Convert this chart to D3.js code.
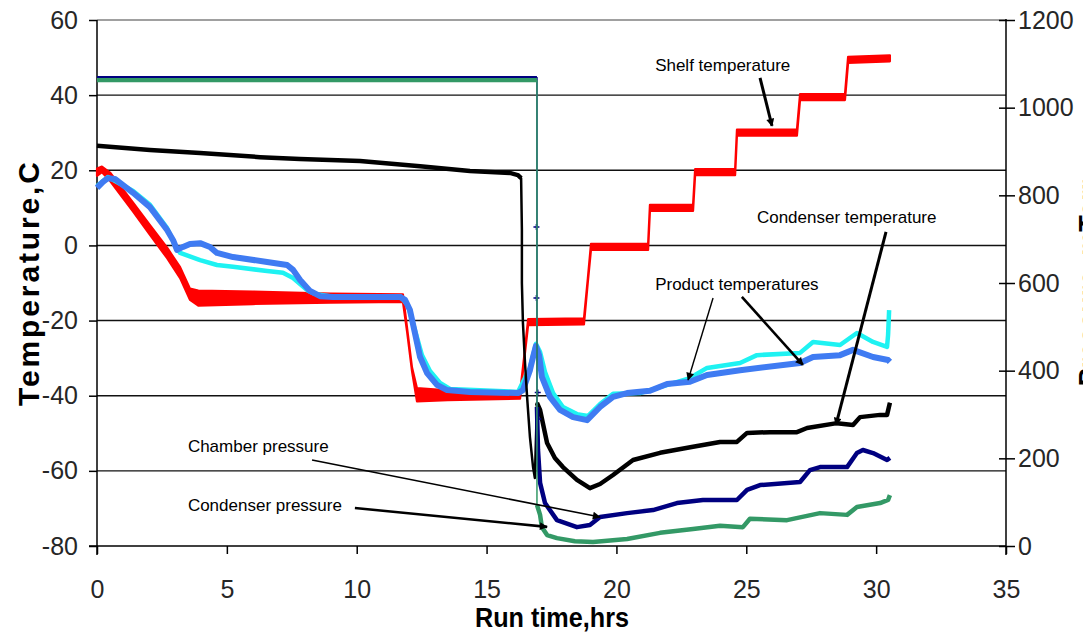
<!DOCTYPE html>
<html>
<head>
<meta charset="utf-8">
<script src="https://cdn.jsdelivr.net/npm/d3@7"></script>
<style>
  html, body { margin: 0; padding: 0; background: #fff; }
  svg { display: block; }
  .tick text { font-family: "Liberation Sans", Arial, sans-serif; font-size: 25px; fill: #262626; }
  .note { font-family: "Liberation Sans", Arial, sans-serif; font-size: 17px; fill: #000; }
  .title { font-family: "Liberation Sans", Arial, sans-serif; font-size: 27px; font-weight: bold; fill: #000; }
</style>
</head>
<body>
<svg id="chart" width="1083" height="636"></svg>
<script>
// Freeze-drying run: temperatures (C, left axis) and pressures (mTorr, right axis) vs run time (hrs)

const timeTicks = [0, 5, 10, 15, 20, 25, 30, 35];
const tempTicks = [-80, -60, -40, -20, 0, 20, 40, 60];
const pressTicks = [0, 200, 400, 600, 800, 1000, 1200];

// Shelf temperature: [time, low, high] of the recorded scatter
const shelf = [
  [0.00, 18.5, 20.5], [0.19, 19.5, 21.0], [0.50, 17.2, 19.4], [1.39, 9.0, 11.4],
  [2.04, 2.8, 5.4], [2.70, -3.4, -0.6], [3.20, -8.7, -5.8], [3.58, -14.5, -11.5],
  [3.90, -16.0, -12.0], [6.00, -15.6, -12.3], [9.00, -15.2, -12.8], [11.78, -15.0, -13.0],
  [11.94, -23.0, -22.0], [12.13, -33.5, -32.5], [12.32, -41.5, -38.0], [13.50, -41.2, -38.6],
  [16.29, -40.8, -39.2], [16.44, -31.0, -30.0], [16.60, -21.2, -19.6], [18.75, -21.0, -19.4],
  [18.90, -9.7, -8.7], [19.02, -1.2, 0.4], [21.22, -1.2, 0.4], [21.29, 9.2, 10.8],
  [22.95, 9.2, 10.8], [23.03, 18.7, 20.3], [24.57, 18.7, 20.3], [24.64, 29.2, 30.8],
  [26.95, 29.2, 30.8], [27.07, 38.7, 40.3], [28.80, 38.7, 40.3], [28.92, 48.6, 50.2],
  [30.53, 49.0, 50.6]
];

// Product temperature, probe 1 (cyan)
const product1 = [
  [0.00, 15.8], [0.42, 18.2], [1.39, 14.5], [2.04, 10.8], [2.70, 4.6], [3.00, 0.1],
  [3.20, -2.0], [3.97, -3.9], [4.62, -5.2], [5.24, -5.7], [6.55, -6.8], [7.16, -7.3],
  [7.55, -8.7], [8.09, -11.9], [8.39, -12.9], [8.97, -13.5], [11.67, -13.5], [11.97, -15.9],
  [12.24, -22.5], [12.51, -29.2], [12.82, -33.4], [13.21, -36.6], [13.59, -38.2], [16.21, -39.0],
  [16.67, -32.6], [16.90, -26.2], [17.06, -28.4], [17.25, -33.7], [17.56, -39.3], [17.94, -43.0],
  [18.48, -44.9], [18.90, -45.4], [19.37, -42.2], [19.87, -39.5], [20.91, -39.3], [22.83, -35.3],
  [23.49, -32.6], [24.76, -31.3], [25.41, -29.2], [27.07, -28.6], [27.57, -25.7], [28.61, -26.5],
  [29.26, -23.3], [29.88, -25.7], [30.42, -27.0], [30.46, -23.8], [30.50, -17.2]
];

// Product temperature, probe 2 (blue)
const product2 = [
  [0.00, 15.3], [0.23, 16.9], [0.42, 17.9], [0.69, 17.7], [1.39, 14.0], [2.04, 10.2],
  [2.70, 4.1], [2.93, 1.4], [3.08, -1.2], [3.31, -0.4], [3.58, 0.4], [3.97, 0.6],
  [4.35, -0.4], [4.62, -2.0], [5.24, -3.1], [6.55, -4.4], [7.32, -5.2], [7.55, -6.5],
  [7.82, -9.2], [8.20, -12.1], [8.59, -13.5], [9.09, -13.7], [11.67, -13.7], [11.86, -14.5],
  [12.05, -17.2], [12.24, -23.3], [12.44, -29.7], [12.71, -34.0], [13.09, -37.1], [13.48, -38.5],
  [14.36, -39.0], [16.21, -39.3], [16.40, -38.5], [16.67, -33.2], [16.79, -29.7], [16.90, -26.8],
  [17.02, -29.2], [17.13, -35.0], [17.44, -40.3], [17.83, -43.8], [18.33, -45.7], [18.87, -46.5],
  [19.37, -43.0], [19.87, -40.3], [20.41, -39.3], [21.29, -38.7], [21.95, -36.9], [22.83, -36.3],
  [23.49, -34.5], [24.76, -33.2], [27.07, -31.3], [27.57, -29.7], [28.61, -29.2], [29.11, -27.8],
  [29.88, -29.7], [30.46, -30.5], [30.53, -31.0]
];

// Condenser temperature (black)
const condenserTemp = [
  [0.00, 26.5], [2.04, 25.4], [3.97, 24.6], [6.28, 23.5], [7.82, 23.0], [10.13, 22.5],
  [12.44, 21.1], [14.36, 19.8], [15.90, 19.3], [16.21, 18.7], [16.33, 17.9], [16.36, 4.1],
  [16.36, -10.0], [16.40, -20.6], [16.48, -31.3], [16.56, -40.3], [16.67, -51.0], [16.79, -59.0],
  [16.86, -61.9], [16.94, -41.9], [17.06, -43.8], [17.33, -52.6], [17.63, -56.6], [17.94, -59.0],
  [18.48, -62.4], [18.98, -64.6], [19.37, -63.5], [19.87, -61.1], [20.64, -57.1], [21.68, -55.2],
  [22.95, -53.6], [23.99, -52.3], [24.64, -52.3], [25.03, -49.9], [25.91, -49.7], [26.95, -49.7],
  [27.34, -48.6], [28.49, -47.3], [29.11, -47.8], [29.38, -45.7], [30.15, -45.1], [30.42, -45.1],
  [30.53, -41.9]
];

// Chamber pressure, mTorr (navy)
const chamberPressure = [
  [0.00, 1070], [16.94, 1070], [16.94, 317], [16.98, 219], [17.06, 144], [17.25, 98],
  [17.71, 59], [18.48, 43], [18.98, 48], [19.37, 66], [20.41, 75], [21.41, 82],
  [22.33, 98], [23.33, 105], [24.64, 105], [25.03, 128], [25.53, 139], [27.07, 146],
  [27.45, 173], [27.84, 180], [28.88, 180], [29.26, 212], [29.49, 219], [29.88, 212],
  [30.42, 196], [30.53, 201]
];
// Single chamber readings logged during pump-down
const chamberPumpdown = [[16.92, 728], [16.92, 566], [16.97, 350], [16.99, 290]];

// Condenser pressure, mTorr (green)
const condenserPressure = [
  [0.00, 1063], [16.94, 1063], [16.94, 94], [17.06, 71], [17.13, 43], [17.33, 25],
  [17.71, 18], [18.40, 11], [19.10, 9], [20.41, 16], [21.68, 30], [22.95, 39],
  [23.99, 46], [24.87, 43], [25.14, 62], [26.57, 59], [27.84, 75], [28.88, 71],
  [29.26, 89], [30.15, 98], [30.46, 105], [30.53, 116]
];

// Pump-down start: chamber evacuated from here on
const pumpdownStart = 16.94;

// Callouts: label with anchor (time, temperature) and arrows [from, to, weight]
const callouts = [
  { text: "Shelf temperature", at: [21.49, 46.4], arrows: [[[25.53, 44.6], [25.99, 31.8], 3]] },
  { text: "Condenser temperature", at: [25.41, 6.0], arrows: [[[30.38, 3.6], [28.45, -47.8], 3]] },
  { text: "Product temperatures", at: [21.49, -11.9], arrows: [[[23.72, -14.0], [22.76, -35.8], 1.4], [[24.83, -13.7], [27.18, -31.8], 2.6]] },
  { text: "Chamber pressure", at: [3.5, -55.0], arrows: [[[8.28, -57.1], [19.37, -72.3], 1.6]] },
  { text: "Condenser pressure", at: [3.5, -70.7], arrows: [[[9.93, -69.9], [17.33, -74.9], 2.6]] }
];

const svg = d3.select("#chart");
const plotLeft = 97, plotRight = 1006, plotTop = 20, plotBottom = 546;

const x = d3.scaleLinear().domain([0, 35]).range([plotLeft, plotRight]);
const yT = d3.scaleLinear().domain([-80, 60]).range([plotBottom, plotTop]);
const yP = d3.scaleLinear().domain([0, 1200]).range([plotBottom, plotTop]);
const plain = d => String(d);

// arrowhead
svg.append("defs").append("marker")
  .attr("id", "head").attr("viewBox", "0 0 10 10").attr("refX", 9).attr("refY", 5)
  .attr("markerWidth", 9).attr("markerHeight", 8).attr("markerUnits", "userSpaceOnUse")
  .attr("orient", "auto")
  .append("path").attr("d", "M0,0 L10,5 L0,10 Z").attr("fill", "#000");

// horizontal grid lines at temperature ticks
svg.append("g").selectAll("line")
  .data(tempTicks.filter(v => v > -80 && v < 60))
  .join("line")
  .attr("x1", plotLeft).attr("x2", plotRight)
  .attr("y1", d => yT(d)).attr("y2", d => yT(d))
  .attr("stroke", "#111").attr("stroke-width", 1.4);

// plot-area top border
svg.append("line").attr("x1", plotLeft).attr("x2", plotRight).attr("y1", plotTop).attr("y2", plotTop)
  .attr("stroke", "#a0a0a0").attr("stroke-width", 2);

// axes
const gL = svg.append("g").attr("transform", `translate(${plotLeft},0)`)
  .call(d3.axisLeft(yT).tickValues(tempTicks).tickFormat(plain).tickSize(8).tickSizeOuter(0).tickPadding(11));
const gR = svg.append("g").attr("transform", `translate(${plotRight},0)`)
  .call(d3.axisRight(yP).tickValues(pressTicks).tickFormat(plain).tickSize(9).tickSizeOuter(0).tickPadding(3));
const gB = svg.append("g").attr("transform", `translate(0,${plotBottom})`)
  .call(d3.axisBottom(x).tickValues(timeTicks).tickFormat(plain).tickSize(8).tickSizeOuter(0));

[gL, gR, gB].forEach(g => {
  g.select(".domain").remove();
  g.selectAll(".tick line").attr("stroke", "#000").attr("stroke-width", 1.5);
});
gR.selectAll(".tick line").attr("x1", -7);
gB.selectAll(".tick text").attr("y", 52).attr("dy", 0);

// axis lines
svg.append("line").attr("x1", plotLeft).attr("x2", plotLeft).attr("y1", plotTop).attr("y2", plotBottom + 9)
  .attr("stroke", "#000").attr("stroke-width", 1.5);
svg.append("line").attr("x1", plotRight).attr("x2", plotRight).attr("y1", plotTop - 1).attr("y2", plotBottom + 9)
  .attr("stroke", "#000").attr("stroke-width", 1.5);
svg.append("line").attr("x1", plotLeft - 8).attr("x2", plotRight).attr("y1", plotBottom).attr("y2", plotBottom)
  .attr("stroke", "#000").attr("stroke-width", 1.5);

// axis titles
svg.append("text").attr("class", "title")
  .attr("transform", `translate(39,${(plotTop + plotBottom) / 2 + 1}) rotate(-90)`)
  .attr("text-anchor", "middle").style("font-size", "30px")
  .attr("textLength", 244).attr("lengthAdjust", "spacing")
  .text("Temperature,C");
svg.append("text").attr("class", "title")
  .attr("x", 552).attr("y", 627)
  .attr("text-anchor", "middle")
  .attr("textLength", 154).attr("lengthAdjust", "spacingAndGlyphs")
  .text("Run time,hrs");
svg.append("text").attr("class", "title")
  .attr("transform", `translate(1098,${(plotTop + plotBottom) / 2}) rotate(-90)`)
  .attr("text-anchor", "middle").text("Pressure, mTorr");

const plot = svg.append("g");

// shelf temperature scatter band
plot.append("path").datum(shelf)
  .attr("d", d3.area().x(d => x(d[0])).y0(d => yT(d[1])).y1(d => yT(d[2])))
  .attr("fill", "#ff0000").attr("stroke", "#ff0000").attr("stroke-width", 2.2)
  .attr("stroke-linejoin", "round");

const tLine = d3.line().x(d => x(d[0])).y(d => yT(d[1]));
const pLine = d3.line().x(d => x(d[0])).y(d => yP(d[1]));

plot.append("path").datum(product1).attr("d", tLine)
  .attr("fill", "none").attr("stroke", "#1ef2f2").attr("stroke-width", 4.5).attr("stroke-linejoin", "round");
plot.append("path").datum(product2).attr("d", tLine)
  .attr("fill", "none").attr("stroke", "#3f7bf2").attr("stroke-width", 6).attr("stroke-linejoin", "round");

// condenser temperature: fine trace during the plunge, heavy elsewhere
plot.append("path").datum(condenserTemp).attr("d", tLine)
  .attr("fill", "none").attr("stroke", "#000").attr("stroke-width", 2.5).attr("stroke-linejoin", "round");
plot.append("path").datum(condenserTemp.filter(d => d[0] <= 16.33)).attr("d", tLine)
  .attr("fill", "none").attr("stroke", "#000").attr("stroke-width", 4.5);
plot.append("path").datum(condenserTemp.filter(d => d[0] >= 16.94)).attr("d", tLine)
  .attr("fill", "none").attr("stroke", "#000").attr("stroke-width", 4.5).attr("stroke-linejoin", "round");

// pressures: plateau before pump-down, fine drop line, heavy trace afterwards
function pressure(data, color, plateauWidth) {
  const pre = data.slice(0, data.findIndex(d => d[0] === pumpdownStart) + 1);
  const drop = data.filter(d => d[0] === pumpdownStart);
  const post = data.filter(d => d[0] >= pumpdownStart).slice(drop.length - 1);
  plot.append("path").datum(drop).attr("d", pLine)
    .attr("fill", "none").attr("stroke", color).attr("stroke-width", 1.5);
  plot.append("path").datum(post).attr("d", pLine)
    .attr("fill", "none").attr("stroke", color).attr("stroke-width", 4.5).attr("stroke-linejoin", "round");
  return () => plot.append("path").datum(pre).attr("d", pLine)
    .attr("fill", "none").attr("stroke", color).attr("stroke-width", plateauWidth);
}
const chamberPlateau = pressure(chamberPressure, "#000080", 1.8);
plot.append("g").selectAll("path").data(chamberPumpdown).join("path")
  .attr("d", d => `M${x(d[0]) - 3},${yP(d[1])}h6M${x(d[0])},${yP(d[1]) - 3}v6`)
  .attr("stroke", "#000080").attr("stroke-width", 1.5);
const condenserPlateau = pressure(condenserPressure, "#339966", 4.5);
condenserPlateau();
chamberPlateau();

// callouts
const notes = svg.append("g");
callouts.forEach(c => {
  notes.append("text").attr("class", "note")
    .attr("x", x(c.at[0])).attr("y", yT(c.at[1])).text(c.text);
  c.arrows.forEach(([a, b, w]) => {
    notes.append("line")
      .attr("x1", x(a[0])).attr("y1", yT(a[1])).attr("x2", x(b[0])).attr("y2", yT(b[1]))
      .attr("stroke", "#000").attr("stroke-width", w).attr("marker-end", "url(#head)");
  });
});
</script>
</body>
</html>
